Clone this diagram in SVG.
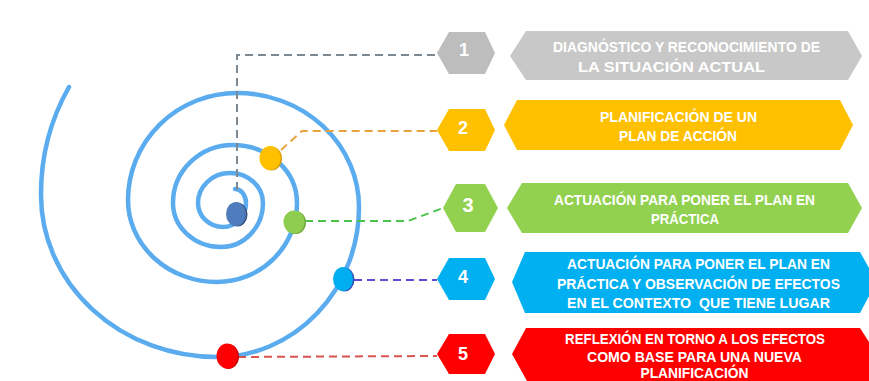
<svg xmlns="http://www.w3.org/2000/svg" width="869" height="381" viewBox="0 0 869 381">
<style>
.num{font-family:"Liberation Sans",Arial,sans-serif;font-weight:bold;font-size:18px;fill:#fff;text-anchor:middle}
.lbl{font-family:"Liberation Sans",Arial,sans-serif;font-weight:bold;font-size:14px;fill:#fff;text-anchor:middle}
.lbl2{font-family:"Liberation Sans",Arial,sans-serif;font-weight:bold;font-size:15px;fill:#fff;text-anchor:middle}
.dash{fill:none;stroke-width:2;stroke-dasharray:8 5}
.spiral{fill:none;stroke:#5aacef;stroke-width:4.5;stroke-linecap:round}
</style>
<rect width="869" height="381" fill="#fff"/>
<g id="spiral">
<path class="spiral" d="M 235 189 A 11 14 0 0 1 246 203 A 23 24 0 0 1 223 227 A 25 24 0 0 1 198 203 A 32 30 0 0 1 230 173 A 33 30 0 0 1 263 203 A 42 44 0 0 1 221 247 A 48 44 0 0 1 173 203 A 60 58 0 0 1 233 145 A 64 58 0 0 1 297 203 A 80 79 0 0 1 217 282 A 89 82 0 0 1 128 200 A 109 107 0 0 1 237 93 A 122 114 0 0 1 359 207 A 142 150 0 0 1 217 357 A 176 162 0 0 1 41 195 A 190 205 0 0 1 69 87"/>
</g>
<g id="connectors">
<path class="dash" stroke="#7d8992" d="M 237 190 L 237 55 L 437 55"/>
<path class="dash" stroke="#e8a33c" d="M 281 150 L 302 131 L 437 131"/>
<path class="dash" stroke="#4cc44c" d="M 305 221 L 408 221 L 443 208"/>
<path class="dash" stroke="#5a4ed2" d="M 354 280 L 437 280"/>
<path class="dash" stroke="#d9534f" d="M 238 357 L 437 356"/>
</g>
<g id="dot1"><ellipse cx="237.5" cy="214.5" rx="10" ry="12" fill="#34527a"/><ellipse cx="236" cy="214" rx="10" ry="12" fill="#4f7cbd"/></g>
<g id="dot2"><ellipse cx="271.5" cy="158.5" rx="10.5" ry="12" fill="#d99b00"/><ellipse cx="270" cy="158" rx="10.5" ry="12" fill="#ffc000"/></g>
<g id="dot3"><ellipse cx="295.5" cy="222.5" rx="10.5" ry="11.5" fill="#6fa83a"/><ellipse cx="294" cy="222" rx="10.5" ry="11.5" fill="#8fcd50"/></g>
<g id="dot4"><ellipse cx="344.5" cy="279.5" rx="10" ry="12" fill="#3a4fb8"/><ellipse cx="343" cy="279" rx="10" ry="12" fill="#00adf0"/></g>
<g id="dot5"><ellipse cx="228.5" cy="356.5" rx="10.5" ry="12.5" fill="#c80000"/><ellipse cx="227" cy="356" rx="10.5" ry="12.5" fill="#ff0000"/></g>
<g id="step1">
<polygon points="437,53 449,32 485,32 495,53 485,74 449,74" fill="#bdbdbd"/>
<text class="num" x="464" y="56">1</text>
<polygon points="510,56 526,31 848,31 862,56 848,80 526,80" fill="#c8c8c8"/>
<text class="lbl" x="686.5" y="52" textLength="267" lengthAdjust="spacingAndGlyphs">DIAGNÓSTICO Y RECONOCIMIENTO DE</text>
<text class="lbl" x="671.5" y="71.5" textLength="187" lengthAdjust="spacingAndGlyphs">LA SITUACIÓN ACTUAL</text>
</g>
<g id="step2">
<polygon points="437,130 449,109 485,109 495,130 485,151 449,151" fill="#ffc000"/>
<text class="num" x="463" y="134">2</text>
<polygon points="504,125 517,100 840,100 853,125 840,150 517,150" fill="#ffc000"/>
<text class="lbl" x="678.5" y="122" textLength="157" lengthAdjust="spacingAndGlyphs">PLANIFICACIÓN DE UN</text>
<text class="lbl" x="678" y="141" textLength="118" lengthAdjust="spacingAndGlyphs">PLAN DE ACCIÓN</text>
</g>
<g id="step3">
<polygon points="443,208 456,184 485,184 498,208 485,232 456,232" fill="#92d050"/>
<text class="num" x="468" y="212" style="font-size:20px">3</text>
<polygon points="507,208 522,183 848,183 862,208 848,233 522,233" fill="#92d050"/>
<text class="lbl" x="684.5" y="205" textLength="261" lengthAdjust="spacingAndGlyphs">ACTUACIÓN PARA PONER EL PLAN EN</text>
<text class="lbl" x="685" y="223.5" textLength="68" lengthAdjust="spacingAndGlyphs">PRÁCTICA</text>
</g>
<g id="step4">
<polygon points="437,279 449,258 485,258 495,279 485,300 449,300" fill="#00b0f0"/>
<text class="num" x="463" y="283">4</text>
<polygon points="512,282 525,252 860,252 869,268 869,296 860,313 525,313" fill="#00b0f0"/>
<text class="lbl2" x="698.5" y="269" textLength="263" lengthAdjust="spacingAndGlyphs">ACTUACIÓN PARA PONER EL PLAN EN</text>
<text class="lbl2" x="698.5" y="288.5" textLength="283" lengthAdjust="spacingAndGlyphs">PRÁCTICA Y OBSERVACIÓN DE EFECTOS</text>
<text class="lbl2" x="698.5" y="308" textLength="263" lengthAdjust="spacingAndGlyphs" xml:space="preserve">EN EL CONTEXTO  QUE TIENE LUGAR</text>
</g>
<g id="step5">
<polygon points="437,354 449,334 485,334 495,354 485,374 449,374" fill="#ff0000"/>
<text class="num" x="463" y="360">5</text>
<polygon points="512,354 526,328 860,328 869,342 869,381 527,381" fill="#ff0000"/>
<text class="lbl2" x="695" y="344" textLength="260" lengthAdjust="spacingAndGlyphs">REFLEXIÓN EN TORNO A LOS EFECTOS</text>
<text class="lbl2" x="694.5" y="361.5" textLength="215" lengthAdjust="spacingAndGlyphs">COMO BASE PARA UNA NUEVA</text>
<text class="lbl2" x="694.5" y="378" textLength="108" lengthAdjust="spacingAndGlyphs">PLANIFICACIÓN</text>
</g>
</svg>
